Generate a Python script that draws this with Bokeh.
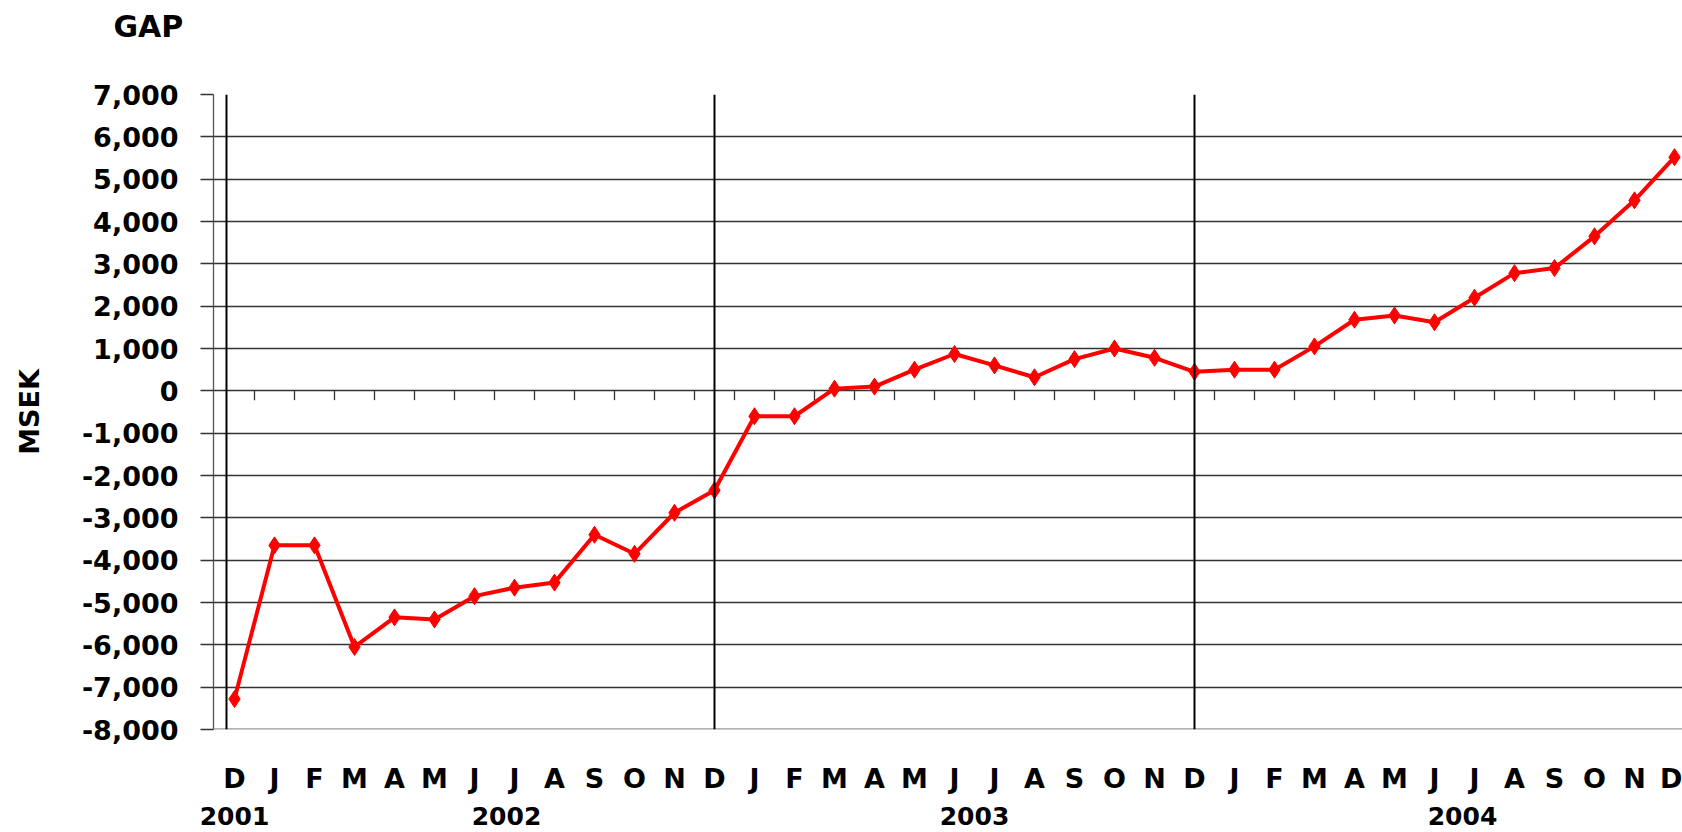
from bokeh.plotting import figure
from bokeh.models import Range1d, FixedTicker, NumeralTickFormatter, Span, LinearAxis
from bokeh.embed import file_html
from bokeh.resources import INLINE

# ---- data ----
months = ["D", "J", "F", "M", "A", "M", "J", "J", "A", "S", "O", "N", "D",
          "J", "F", "M", "A", "M", "J", "J", "A", "S", "O", "N", "D",
          "J", "F", "M", "A", "M", "J", "J", "A", "S", "O", "N", "D"]
gap = [-7280, -3650, -3650, -6050, -5350, -5400, -4850, -4650, -4530, -3400, -3850, -2880, -2350,
       -600, -600, 50, 100, 500, 870, 600, 320, 750, 1000, 780, 450,
       500, 500, 1050, 1680, 1780, 1620, 2200, 2780, 2900, 3650, 4500, 5520]
years = ["2001", "2002", "2003", "2004"]
year_pos = [0, 6.8, 18.5, 30.7]
year_dividers = [-0.2, 12, 24]
y_ticks = list(range(-8000, 7001, 1000))

idx = list(range(len(months)))
FONT = "DejaVu Sans"

p = figure(width=1682, height=832, x_range=Range1d(-0.525, 36.2), y_range=Range1d(-8000, 7000),
           output_backend="svg", toolbar_location=None,
           min_border_left=213, min_border_right=0, min_border_top=94, min_border_bottom=103)
p.outline_line_color = None
p.background_fill_color = "white"

# title
p.title.text = "GAP"
p.title.align = "left"
p.title.vertical_align = "top"
p.title.offset = -100
p.title.standoff = 0
p.title.padding = dict(left=0, right=0, top=0, bottom=49)
p.title.text_font = FONT
p.title.text_font_style = "bold"
p.title.text_font_size = "30px"
p.title.text_color = "black"

# grid
p.xgrid.visible = False
p.ygrid.ticker = FixedTicker(ticks=y_ticks)
p.ygrid.grid_line_color = "#333333"
p.ygrid.grid_line_width = 1.3

# y axis
ya = p.yaxis[0]
ya.ticker = FixedTicker(ticks=y_ticks)
ya.formatter = NumeralTickFormatter(format="0,0")
ya.major_label_text_font = FONT
ya.major_label_text_font_style = "bold"
ya.major_label_text_font_size = "27px"
ya.major_label_text_color = "black"
ya.major_tick_out = 13
ya.major_tick_in = 0
ya.minor_tick_line_color = None
ya.major_tick_line_color = "#333333"
ya.major_tick_line_width = 1.3
ya.axis_line_color = "#555555"
ya.axis_line_width = 1.3
ya.major_label_standoff = 22
ya.axis_label = "MSEK"
ya.axis_label_text_font = FONT
ya.axis_label_text_font_style = "bold"
ya.axis_label_text_font_size = "27px"
ya.axis_label_text_color = "black"
ya.axis_label_standoff = 34

# x axis (months)
xa = p.xaxis[0]
xa.ticker = FixedTicker(ticks=idx)
xa.major_label_overrides = {i: m for i, m in enumerate(months)}
xa.major_label_text_font = FONT
xa.major_label_text_font_style = "bold"
xa.major_label_text_font_size = "27px"
xa.major_label_text_color = "black"
xa.axis_line_color = None
xa.major_tick_line_color = None
xa.minor_tick_line_color = None
xa.major_tick_out = 0
xa.major_tick_in = 0
xa.major_label_standoff = 33

# x axis (years)
ya2 = LinearAxis(ticker=FixedTicker(ticks=year_pos),
                 major_label_overrides={pos: yr for pos, yr in zip(year_pos, years)})
ya2.major_label_text_font = FONT
ya2.major_label_text_font_style = "bold"
ya2.major_label_text_font_size = "25px"
ya2.major_label_text_color = "black"
ya2.axis_line_color = None
ya2.major_tick_line_color = None
ya2.minor_tick_line_color = None
ya2.major_tick_out = 0
ya2.major_tick_in = 0
ya2.major_label_standoff = 10
p.add_layout(ya2, "below")

# bottom border line
p.add_layout(Span(location=-8000, dimension="width", line_color="#9a9a9a", line_width=2.5))

# ticks on zero line, between categories
bounds = [i + 0.5 for i in idx[:-1]]
p.segment(x0=bounds, y0=[0] * len(bounds), x1=bounds, y1=[-220] * len(bounds),
          line_color="#333333", line_width=1.3)

# year dividers
for v in year_dividers:
    p.add_layout(Span(location=v, dimension="height", line_color="black", line_width=2))

# series
p.line(idx, gap, line_color="#FF0000", line_width=4)
p.scatter(idx, gap, marker="diamond", size=17, fill_color="#FF0000", line_color="#FF0000")

open("out.html", "w").write(file_html(p, INLINE))
